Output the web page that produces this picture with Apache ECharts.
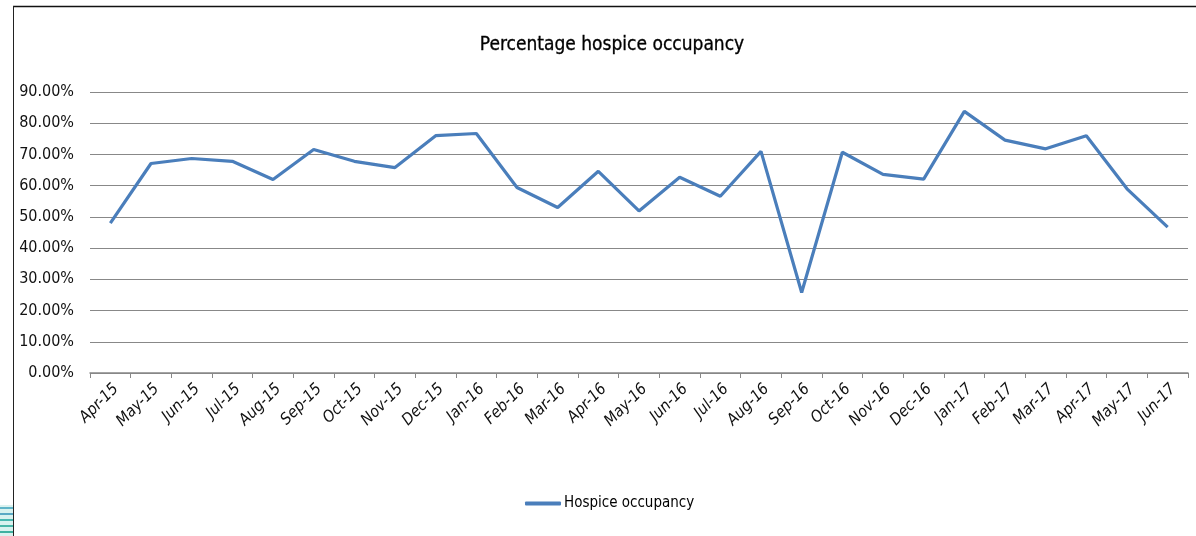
<!DOCTYPE html>
<html>
<head>
<meta charset="utf-8">
<script src="https://cdn.jsdelivr.net/npm/echarts@6/dist/echarts.min.js"></script>
<style>
    html, body { margin: 0; padding: 0; background: #fff; }
    #chart { width: 1196px; height: 536px; }
</style>
</head>
<body>
<div id="chart"></div>
<script>
// 数据
const months = ['Apr-15', 'May-15', 'Jun-15', 'Jul-15', 'Aug-15', 'Sep-15', 'Oct-15', 'Nov-15', 'Dec-15',
    'Jan-16', 'Feb-16', 'Mar-16', 'Apr-16', 'May-16', 'Jun-16', 'Jul-16', 'Aug-16', 'Sep-16', 'Oct-16',
    'Nov-16', 'Dec-16', 'Jan-17', 'Feb-17', 'Mar-17', 'Apr-17', 'May-17', 'Jun-17'];
const occupancy = [48.0, 67.1, 68.7, 67.8, 62.0, 71.6, 67.8, 65.8, 76.0,
    76.7, 59.4, 53.0, 64.6, 51.9, 62.7, 56.6, 71.0, 25.8, 70.7,
    63.6, 62.1, 83.8, 74.6, 71.8, 76.0, 59.0, 46.7];
const yTicks = [0, 10, 20, 30, 40, 50, 60, 70, 80, 90];

const narrowFont = "'Liberation Sans Narrow', 'DejaVu Sans Condensed', 'Noto Sans', sans-serif";

(function () {
    let myChart = echarts.init(document.getElementById('chart'));
    let option = {
        backgroundColor: '#fff',
        animation: false,
        title: {
            text: 'Percentage hospice occupancy',
            left: 607,
            textAlign: 'center',
            top: 31,
            textStyle: {
                fontFamily: narrowFont,
                fontSize: 19,
                fontWeight: 'normal',
                color: '#000',
                textBorderColor: '#000',
                textBorderWidth: 0.3
            }
        },
        legend: {
            bottom: 20,
            left: 520,
            itemWidth: 36,
            itemHeight: 4,
            itemGap: 4,
            icon: 'roundRect',
            textStyle: {
                fontFamily: narrowFont,
                fontSize: 15,
                color: '#000',
                padding: [0, 0, 0, -2]
            },
            data: ['Hospice occupancy']
        },
        grid: {
            left: 90,
            right: 8,
            top: 92,
            bottom: 163,
            containLabel: false
        },
        xAxis: {
            type: 'category',
            data: months,
            boundaryGap: true,
            axisLine: {
                lineStyle: { color: '#878787', width: 1.5 }
            },
            axisTick: {
                show: true,
                length: 5,
                lineStyle: { color: '#878787' }
            },
            axisLabel: {
                rotate: 45,
                interval: 0,
                margin: 8,
                verticalAlign: 'top',
                fontFamily: narrowFont,
                fontSize: 16,
                fontStyle: 'italic',
                color: '#111'
            }
        },
        yAxis: {
            type: 'value',
            min: yTicks[0],
            max: yTicks[yTicks.length - 1],
            interval: 10,
            axisLine: { show: false },
            axisTick: { show: false },
            axisLabel: {
                margin: 16,
                fontFamily: narrowFont,
                fontSize: 16,
                color: '#111',
                formatter: function (v) { return v.toFixed(2) + '%'; }
            },
            splitLine: {
                lineStyle: { color: '#888', width: 1.2 }
            }
        },
        series: [
            {
                name: 'Hospice occupancy',
                type: 'line',
                data: occupancy,
                symbol: 'none',
                color: '#4a7ebb',
                lineStyle: { width: 3.2, color: '#4a7ebb' }
            }
        ],
        graphic: [
            // 外框（上边和左边）
            { type: 'line', shape: { x1: 13, y1: 6.5, x2: 1196, y2: 6.5 }, style: { stroke: '#111', lineWidth: 1.5 } },
            { type: 'line', shape: { x1: 13.5, y1: 6, x2: 13.5, y2: 536 }, style: { stroke: '#222', lineWidth: 1 } },
            // 左下角的装饰条纹
            { type: 'rect', shape: { x: 0, y: 505, width: 13, height: 31 }, style: { fill: '#d9f2ef' } },
            { type: 'line', shape: { x1: 0, y1: 508, x2: 13, y2: 508 }, style: { stroke: '#5fb4c8', lineWidth: 2 } },
            { type: 'line', shape: { x1: 0, y1: 514, x2: 13, y2: 514 }, style: { stroke: '#5aa9c4', lineWidth: 2 } },
            { type: 'line', shape: { x1: 0, y1: 520, x2: 13, y2: 520 }, style: { stroke: '#48b8b0', lineWidth: 2 } },
            { type: 'line', shape: { x1: 0, y1: 526, x2: 13, y2: 526 }, style: { stroke: '#4ab7a9', lineWidth: 2 } },
            { type: 'line', shape: { x1: 0, y1: 532, x2: 13, y2: 532 }, style: { stroke: '#3fb0a0', lineWidth: 2 } }
        ]
    };
    myChart.setOption(option);
})();
</script>
</body>
</html>
